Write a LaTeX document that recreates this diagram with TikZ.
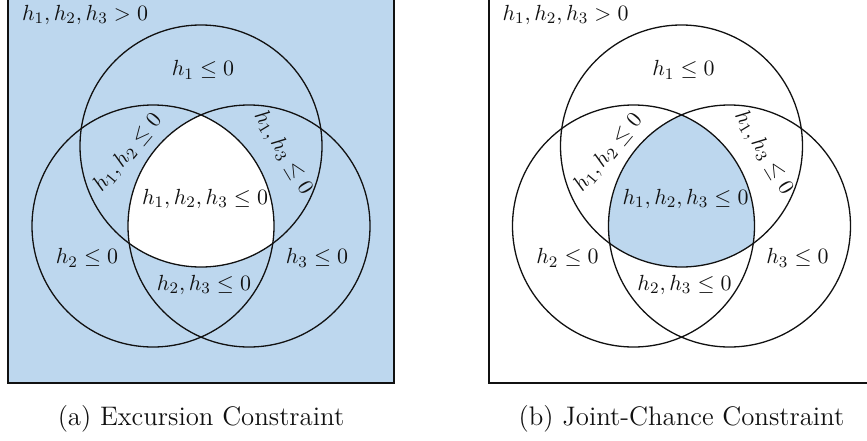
\documentclass[tikz,border=0pt]{standalone}
\usetikzlibrary{positioning}
\definecolor{sky}{HTML}{BDD7EE}
\definecolor{ink}{HTML}{111111}

\begin{document}
\begin{tikzpicture}[
  x=0.5pt, y=0.5pt,
  every node/.style={
    text=ink,
    inner sep=0pt,
  },
  lbl/.style={
    font=\fontsize{11}{13}\selectfont,
  },
  caption/.style={
    font=\fontsize{13.4}{16}\selectfont,
  },
  frame/.style={
    draw=ink,
    line width=1pt,
  },
  ring/.style={
    draw=ink,
    line width=0.65pt,
  },
]
\useasboundingbox (-201,-240.5) rectangle (666,199.5);

% --- centres ---
\foreach \p/\dx in {a/0,b/480.5} {
  \coordinate (\p0) at (\dx,0);
  \coordinate (\p1) at (\dx,53.5);
  \coordinate (\p2) at (\dx-48,-26.5);
  \coordinate (\p3) at (\dx+48,-26.5);
}

% --- fills ---
\fill[sky] (-193,-183.5) rectangle (193,202.5);
\begin{scope}
  \clip (a1) circle (121);
  \clip (a2) circle (121);
  \fill[white] (a3) circle (121);
\end{scope}
\begin{scope}
  \clip (b1) circle (121);
  \clip (b2) circle (121);
  \fill[sky] (b3) circle (121);
\end{scope}

% --- frames and circles ---
\foreach \p/\dx/\captext in {a/0/Excursion Constraint,b/480.5/Joint-Chance Constraint} {
  \draw[frame] (\dx-193,-183.5) rectangle (\dx+193,202.5);
  \draw[ring] (\p1) circle (121);
  \draw[ring] (\p2) circle (121);
  \draw[ring] (\p3) circle (121);
  \begin{scope}[shift={(\dx,0)}]
    \node[lbl] (\p-out) at (-116,184.5) {$h_1, h_2, h_3 > 0$};
    \node[lbl] (\p-one) at (2,129.5) {$h_1 \leq 0$};
    \node[lbl, rotate=50] (\p-onetwo) at (-73,46.5) {$h_1, h_2 \leq 0$};
    \node[lbl, rotate=-59] (\p-onethree) at (82,46.5) {$h_1, h_3 \leq 0$};
    \node[lbl] (\p-all) at (4,0.5) {$h_1, h_2, h_3 \leq 0$};
    \node[lbl] (\p-two) at (-114,-58.5) {$h_2 \leq 0$};
    \node[lbl] (\p-three) at (116,-58.5) {$h_3 \leq 0$};
    \node[lbl] (\p-twothree) at (3,-85.5) {$h_2, h_3 \leq 0$};
    \node[caption] (\p-cap) at (0,-219.5) {(\p) \captext};
  \end{scope}
}

\end{tikzpicture}
\end{document}
